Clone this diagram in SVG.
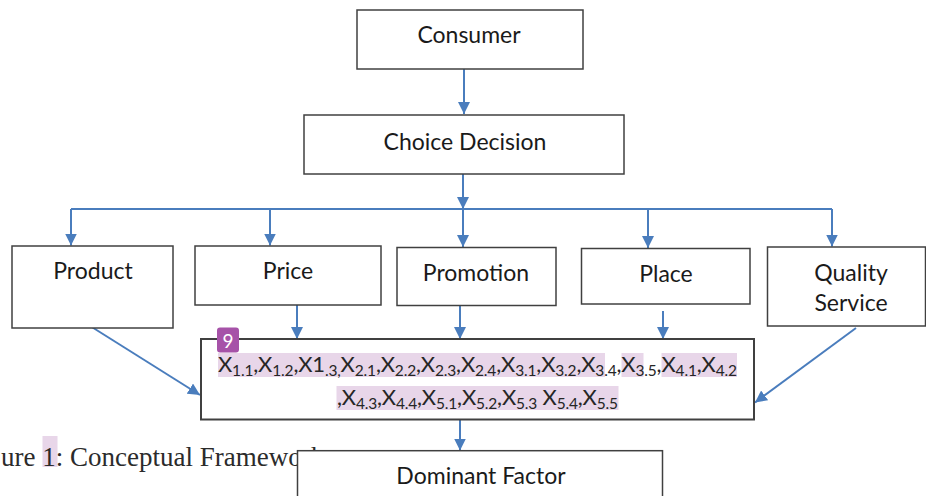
<svg xmlns="http://www.w3.org/2000/svg" width="926" height="496" viewBox="0 0 926 496">
<defs>
<style>
.box{fill:#fff;stroke:#404040;stroke-width:1.5}
.lbl{font-family:Lato,"Open Sans",sans-serif;font-size:23px;fill:#1a1a1a;text-anchor:middle}
.xt{font-family:Lato,"Open Sans",sans-serif;font-size:22px;fill:#262626}
.sb{font-size:15.5px}
.con{fill:none;stroke:#4a7dbd;stroke-width:2}
.hl{fill:#e8d6e9}
</style>
<marker id="ah" markerUnits="userSpaceOnUse" markerWidth="12" markerHeight="12" refX="12" refY="6" orient="auto" viewBox="0 0 12 12">
<path d="M0,0 L12,6 L0,12 z" fill="#4a7dbd"/>
</marker>
</defs>
<rect width="926" height="496" fill="#fff"/>

<g id="caption">
<rect class="hl" x="42.5" y="436" width="15" height="31"/>
<text x="1" y="466" font-family="'Liberation Serif',serif" font-size="27" fill="#2b2b2b">ure 1: Conceptual Framework</text>
</g>

<g id="connectors">
<path class="con" d="M464,69 V114" marker-end="url(#ah)"/>
<path class="con" d="M71,209 H832"/>
<path class="con" d="M463,174 V209" marker-end="url(#ah)"/>
<path class="con" d="M71,209 V245.5" marker-end="url(#ah)"/>
<path class="con" d="M270,209 V245.5" marker-end="url(#ah)"/>
<path class="con" d="M463,209 V247" marker-end="url(#ah)"/>
<path class="con" d="M648,209 V248" marker-end="url(#ah)"/>
<path class="con" d="M832,209 V246.5" marker-end="url(#ah)"/>
<path class="con" d="M87,324 L200,395" marker-end="url(#ah)"/>
<path class="con" d="M297,305 V339" marker-end="url(#ah)"/>
<path class="con" d="M460,306 V339" marker-end="url(#ah)"/>
<path class="con" d="M663,311 V339" marker-end="url(#ah)"/>
<path class="con" d="M856,328 L755,402.5" marker-end="url(#ah)"/>
<path class="con" d="M460,420 V450.5" marker-end="url(#ah)"/>
</g>

<g id="consumer">
<rect class="box" x="357" y="10" width="226" height="59"/>
<text class="lbl" x="469" y="43">Consumer</text>
</g>
<g id="choice">
<rect class="box" x="304" y="115" width="320" height="59"/>
<text class="lbl" x="465" y="150">Choice Decision</text>
</g>
<g id="product">
<rect class="box" x="12" y="246" width="161" height="82"/>
<text class="lbl" x="93" y="279">Product</text>
</g>
<g id="price">
<rect class="box" x="195" y="246" width="186" height="59"/>
<text class="lbl" x="288" y="279">Price</text>
</g>
<g id="promotion">
<rect class="box" x="397" y="247.5" width="159" height="58"/>
<text class="lbl" x="476" y="280.5">Promotion</text>
</g>
<g id="place">
<rect class="box" x="581.5" y="248.5" width="168.5" height="55.5"/>
<text class="lbl" x="666" y="281.5">Place</text>
</g>
<g id="quality">
<rect class="box" x="767.5" y="247" width="158" height="79"/>
<text class="lbl" x="851" y="280.5">Quality</text>
<text class="lbl" x="851" y="310.5">Service</text>
</g>

<g id="variables">
<rect x="201" y="339" width="553" height="80.5" fill="#fff" stroke="#404040" stroke-width="2"/>
<rect class="hl" x="218" y="353" width="387" height="24"/>
<rect class="hl" x="621.5" y="353" width="22" height="24"/>
<rect class="hl" x="661.5" y="353" width="75.5" height="24"/>
<rect class="hl" x="336.5" y="386" width="282" height="24"/>
<text class="xt" x="218" y="372" textLength="519" lengthAdjust="spacing">X<tspan class="sb" dy="4">1.1</tspan><tspan dy="-4">,X</tspan><tspan class="sb" dy="4">1.2</tspan><tspan dy="-4">,X1</tspan><tspan class="sb" dy="4">.3,</tspan><tspan dy="-4">X</tspan><tspan class="sb" dy="4">2.1</tspan><tspan dy="-4">,X</tspan><tspan class="sb" dy="4">2.2</tspan><tspan dy="-4">,X</tspan><tspan class="sb" dy="4">2.3</tspan><tspan dy="-4">,X</tspan><tspan class="sb" dy="4">2.4</tspan><tspan dy="-4">,X</tspan><tspan class="sb" dy="4">3.1</tspan><tspan dy="-4">,X</tspan><tspan class="sb" dy="4">3.2</tspan><tspan dy="-4">,X</tspan><tspan class="sb" dy="4">3.4</tspan><tspan dy="-4">,X</tspan><tspan class="sb" dy="4">3.5</tspan><tspan dy="-4">,X</tspan><tspan class="sb" dy="4">4.1</tspan><tspan dy="-4">,X</tspan><tspan class="sb" dy="4">4.2</tspan></text>
<text class="xt" x="337" y="405" textLength="281" lengthAdjust="spacing">,X<tspan class="sb" dy="4">4.3</tspan><tspan dy="-4">,X</tspan><tspan class="sb" dy="4">4.4</tspan><tspan dy="-4">,X</tspan><tspan class="sb" dy="4">5.1</tspan><tspan dy="-4">,X</tspan><tspan class="sb" dy="4">5.2</tspan><tspan dy="-4">,X</tspan><tspan class="sb" dy="4">5.3</tspan><tspan dy="-4"> X</tspan><tspan class="sb" dy="4">5.4</tspan><tspan dy="-4">,X</tspan><tspan class="sb" dy="4">5.5</tspan></text>
<rect x="217" y="327.5" width="22" height="25" rx="3" fill="#a652a8"/>
<text x="228" y="347.5" font-family="Lato,'Open Sans',sans-serif" font-size="19" fill="#fff" text-anchor="middle">9</text>
</g>

<g id="dominant">
<rect class="box" x="297.5" y="450.7" width="365" height="60"/>
<text class="lbl" x="481" y="484">Dominant Factor</text>
</g>
</svg>
